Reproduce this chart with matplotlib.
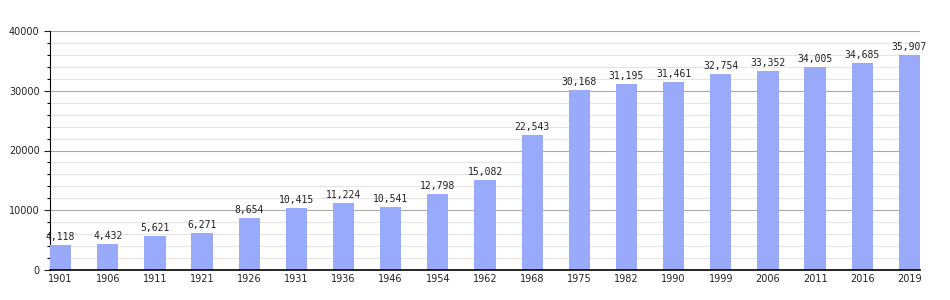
'''Population bar chart by census year'''
from matplotlib import pyplot as plt
from matplotlib.ticker import MultipleLocator
import numpy as np

years = ['1901', '1906', '1911', '1921', '1926', '1931', '1936', '1946', '1954', '1962',
         '1968', '1975', '1982', '1990', '1999', '2006', '2011', '2016', '2019']
population = [4118, 4432, 5621, 6271, 8654, 10415, 11224, 10541, 12798, 15082,
              22543, 30168, 31195, 31461, 32754, 33352, 34005, 34685, 35907]

plt.rcParams['font.family'] = 'DejaVu Sans'

fig = plt.figure(figsize=(9.5, 3), dpi=100)
ax = fig.add_axes([50 / 950, 30 / 300, 870 / 950, 239 / 300])

x = np.arange(len(years))
width = 0.45
bars = ax.bar(x, population, width=width, color='#9aaafb', zorder=3)

for rect, val in zip(bars, population):
    ax.text(rect.get_x() + rect.get_width() / 2, val + 500, f'{val:,}',
            ha='center', va='bottom', fontsize=7, color='#222222',
            family='DejaVu Sans Mono')

ax.set_xlim(-width / 2, len(years) - 1 + width / 2)
ax.set_ylim(0, 40000)
ax.set_xticks(x)
ax.set_xticklabels(years, fontsize=7, color='#222222')
ax.yaxis.set_major_locator(MultipleLocator(10000))
ax.yaxis.set_minor_locator(MultipleLocator(2000))
ax.tick_params(axis='y', labelsize=7, colors='#222222', length=4, width=0.8)
ax.tick_params(axis='y', which='minor', length=2, width=0.8)
ax.tick_params(axis='x', length=0, pad=3)

ax.grid(axis='y', which='major', color='#aaaaaa', linewidth=0.8, zorder=0)
ax.grid(axis='y', which='minor', color='#e4e4e4', linewidth=0.8, zorder=0)

for side in ('top', 'right'):
    ax.spines[side].set_visible(False)
ax.spines['left'].set_color('black')
ax.spines['bottom'].set_color('black')
ax.spines['bottom'].set_linewidth(1.2)
ax.spines['bottom'].set_zorder(4)

fig.savefig('out.png', dpi=100)
